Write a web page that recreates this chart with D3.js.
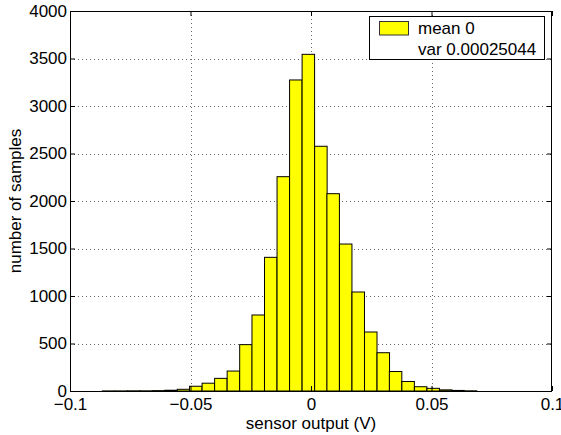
<!DOCTYPE html>
<html>
<head>
<meta charset="utf-8">
<script src="https://cdn.jsdelivr.net/npm/d3@7"></script>
<style>
  body { margin: 0; background: #fff; overflow: hidden; }
  text { font-family: "Liberation Sans", Arial, sans-serif; }
</style>
</head>
<body>
<div id="chart"></div>
<script>
// histogram of sensor output, 30 bins
var binCenters = [-0.0840, -0.0788, -0.0736, -0.0685, -0.0633, -0.0581, -0.0529, -0.0478, -0.0426, -0.0374,
                  -0.0322, -0.0270, -0.0219, -0.0167, -0.0115, -0.0063, -0.0011, 0.0041, 0.0092, 0.0144,
                  0.0196, 0.0248, 0.0300, 0.0351, 0.0403, 0.0455, 0.0507, 0.0559, 0.0610, 0.0662];
var counts = [1, 1, 2, 2, 4, 8, 18, 50, 82, 133,
              210, 488, 800, 1407, 2256, 3274, 3544, 2576, 2077, 1547,
              1042, 621, 403, 205, 100, 45, 28, 12, 6, 2];
var binWidth = 0.00518;

var xTicks = [-0.1, -0.05, 0, 0.05, 0.1];
var xTickLabels = ["\u22120.1", "\u22120.05", "0", "0.05", "0.1"];
var yTicks = [0, 500, 1000, 1500, 2000, 2500, 3000, 3500, 4000];
var legendLines = ["mean 0", "var 0.00025044"];

var width = 561, height = 435;
// note: "top" is window.top in a browser, so use other names
var pL = 70, pR = 552, pT = 11, pB = 391;

var svg = d3.select("#chart").append("svg").attr("width", width).attr("height", height);

var x = d3.scaleLinear().domain([-0.1, 0.1]).range([pL, pR]);
var y = d3.scaleLinear().domain([0, 4000]).range([pB, pT]);

// dotted grid (inner lines only)
var grid = svg.append("g").attr("stroke", "#666").attr("stroke-dasharray", "1,3").attr("shape-rendering", "crispEdges");
grid.selectAll("line.gx").data(xTicks.slice(1, -1)).enter().append("line")
    .attr("x1", d => Math.round(x(d)) + 0.5).attr("x2", d => Math.round(x(d)) + 0.5)
    .attr("y1", pT).attr("y2", pB);
grid.selectAll("line.gy").data(yTicks.slice(1, -1)).enter().append("line")
    .attr("y1", d => Math.round(y(d)) + 0.5).attr("y2", d => Math.round(y(d)) + 0.5)
    .attr("x1", pL).attr("x2", pR);

// bars
svg.append("g").selectAll("rect").data(counts).enter().append("rect")
    .attr("x", (d, i) => x(binCenters[i] - binWidth / 2))
    .attr("width", x(binWidth) - x(0))
    .attr("y", d => y(d))
    .attr("height", d => y(0) - y(d))
    .attr("fill", "#ffff00").attr("stroke", "#000").attr("stroke-width", 1);

// axes, ticks pointing inward on all four sides
var fmtX = d => xTickLabels[xTicks.indexOf(d)];
svg.append("g").attr("transform", "translate(0," + pB + ")")
    .call(d3.axisBottom(x).tickValues(xTicks).tickFormat(fmtX).tickSize(-5).tickPadding(7).tickSizeOuter(0));
svg.append("g").attr("transform", "translate(" + pL + ",0)")
    .call(d3.axisLeft(y).tickValues(yTicks).tickFormat(d3.format("d")).tickSize(-5).tickPadding(3).tickSizeOuter(0));
svg.append("g").attr("transform", "translate(0," + pT + ")")
    .call(d3.axisTop(x).tickValues(xTicks).tickFormat("").tickSize(-5).tickSizeOuter(0));
svg.append("g").attr("transform", "translate(" + pR + ",0)")
    .call(d3.axisRight(y).tickValues(yTicks).tickFormat("").tickSize(-5).tickSizeOuter(0));

svg.selectAll(".domain").remove();
svg.selectAll(".tick line").attr("stroke", "#000");
svg.selectAll(".tick text").attr("font-size", 17).attr("fill", "#000")
    .style("font-family", "'Liberation Sans', Arial, sans-serif");

// box
svg.append("rect").attr("x", pL + 0.5).attr("y", pT + 0.5)
    .attr("width", pR - pL - 1).attr("height", pB - pT)
    .attr("fill", "none").attr("stroke", "#000").attr("stroke-width", 1);

// axis labels
svg.append("text").attr("x", (pL + pR) / 2).attr("y", 429)
    .attr("text-anchor", "middle").attr("font-size", 17).text("sensor output (V)");
svg.append("text").attr("transform", "translate(21," + (pT + pB) / 2 + ") rotate(-90)")
    .attr("text-anchor", "middle").attr("font-size", 17).text("number of samples");

// legend
var lg = svg.append("g");
lg.append("rect").attr("x", 369.5).attr("y", 16.5).attr("width", 175).attr("height", 43)
    .attr("fill", "#fff").attr("stroke", "#000");
lg.append("rect").attr("x", 379.5).attr("y", 21.5).attr("width", 29).attr("height", 13.5)
    .attr("fill", "#ffff00").attr("stroke", "#333");
lg.selectAll("text").data(legendLines).enter().append("text")
    .attr("x", 418).attr("y", (d, i) => 34 + i * 20.5)
    .attr("font-size", 17).text(d => d);
</script>
</body>
</html>
